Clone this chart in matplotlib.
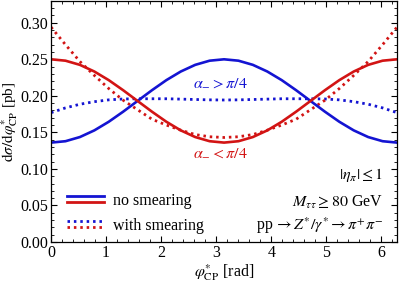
import numpy as np
import matplotlib
matplotlib.use("Agg")
import matplotlib.pyplot as plt
from matplotlib.lines import Line2D
from matplotlib.legend_handler import HandlerBase
from matplotlib.ticker import MultipleLocator, FormatStrFormatter

plt.rcParams['font.family'] = ['Liberation Serif', 'DejaVu Serif']
plt.rcParams['mathtext.fontset'] = 'stix'

BLUE = '#1414d2'
RED = '#d21414'

# phi*_CP sample points in units of pi/12 (0 .. 2 pi)
phi_steps = [0, 1, 2, 3, 4, 5, 6, 7, 8, 9, 10, 11, 12,
             13, 14, 15, 16, 17, 18, 19, 20, 21, 22, 23, 24]

# alpha_- > pi/4, no smearing
blue_solid = [0.136, 0.1379, 0.1436, 0.1527, 0.1645, 0.1783, 0.193, 0.2077,
              0.2215, 0.2333, 0.2424, 0.2481, 0.250, 0.2481, 0.2424, 0.2333,
              0.2215, 0.2077, 0.193, 0.1783, 0.1645, 0.1527, 0.1436, 0.1379, 0.136]
# alpha_- < pi/4, no smearing
red_solid = [0.250, 0.2481, 0.2424, 0.2333, 0.2215, 0.2077, 0.193, 0.1783,
             0.1645, 0.1527, 0.1436, 0.1379, 0.136, 0.1379, 0.1436, 0.1527,
             0.1645, 0.1783, 0.193, 0.2077, 0.2215, 0.2333, 0.2424, 0.2481, 0.250]
# alpha_- > pi/4, with smearing
blue_dotted = [0.177, 0.1835, 0.1885, 0.192, 0.1945, 0.1957, 0.196, 0.196,
               0.196, 0.1955, 0.195, 0.1945, 0.1943, 0.1945, 0.195, 0.1955,
               0.196, 0.196, 0.196, 0.1957, 0.1945, 0.192, 0.1885, 0.1835, 0.177]
# alpha_- < pi/4, with smearing
red_dotted = [0.294, 0.270, 0.247, 0.228, 0.210, 0.194, 0.181, 0.168,
              0.160, 0.153, 0.147, 0.144, 0.143, 0.144, 0.147, 0.153,
              0.160, 0.168, 0.181, 0.194, 0.210, 0.228, 0.247, 0.270, 0.294]

phi = np.array(phi_steps) * np.pi / 12

DOT = (0, (0.9, 1.4))
FS = 11.5


class StackedPair(HandlerBase):
    def __init__(self, style):
        super().__init__()
        self.style = style

    def create_artists(self, legend, orig_handle, xdescent, ydescent,
                       width, height, fontsize, trans):
        x0, x1 = -xdescent, width - xdescent
        arts = []
        for color, frac in ((BLUE, 0.75), (RED, 0.25)):
            ln = Line2D([x0, x1], [frac * height - ydescent] * 2,
                        color=color, lw=2.0, linestyle=self.style,
                        transform=trans)
            arts.append(ln)
        return arts


fig = plt.figure(figsize=(3.99, 2.84), dpi=100)
ax = fig.add_axes([0.128, 0.148, 0.867, 0.849])

ax.plot(phi, blue_dotted, color=BLUE, lw=2.0, linestyle=DOT)
ax.plot(phi, red_dotted, color=RED, lw=2.0, linestyle=DOT)
ax.plot(phi, blue_solid, color=BLUE, lw=1.9)
ax.plot(phi, red_solid, color=RED, lw=1.9)

ax.set_xlim(0, 2 * np.pi)
ax.set_ylim(0, 0.33)
ax.xaxis.set_major_locator(MultipleLocator(1))
ax.xaxis.set_minor_locator(MultipleLocator(0.2))
ax.yaxis.set_major_locator(MultipleLocator(0.05))
ax.yaxis.set_minor_locator(MultipleLocator(0.01))
ax.yaxis.set_major_formatter(FormatStrFormatter('%.2f'))
ax.tick_params(which='both', direction='in', top=True, right=True,
               labelsize=FS, pad=2)
ax.tick_params(which='major', length=4)
ax.tick_params(which='minor', length=2)
for s in ax.spines.values():
    s.set_linewidth(0.9)

ax.set_xlabel(r'$\varphi^{*}_{\mathrm{CP}}$ [rad]', fontsize=FS, labelpad=1)
ax.set_ylabel(r'$\mathrm{d}\sigma/\mathrm{d}\varphi^{*}_{\mathrm{CP}}$ [pb]',
              fontsize=11)
ax.yaxis.set_label_coords(-0.09, 0.5)

ax.text(3.07, 0.218, r'$\alpha_{-} > \pi/4$', color=BLUE, fontsize=FS,
        ha='center', va='center')
ax.text(3.07, 0.122, r'$\alpha_{-} < \pi/4$', color=RED, fontsize=FS,
        ha='center', va='center')

ax.text(0.96, 0.278, r'$|\eta_{\pi}| \leq 1$', transform=ax.transAxes,
        ha='right', va='center', fontsize=FS)
ax.text(0.96, 0.162, r'$M_{\tau\tau} \geq 80$ GeV', transform=ax.transAxes,
        ha='right', va='center', fontsize=FS)
ax.text(0.96, 0.068, r'pp$\,\rightarrow Z^{*}/\gamma^{*} \rightarrow \pi^{+}\pi^{-}$',
        transform=ax.transAxes, ha='right', va='center', fontsize=FS)

h_solid = Line2D([], [])
h_dot = Line2D([], [])
ax.legend([h_solid, h_dot], ['no smearing', 'with smearing'],
          handler_map={h_solid: StackedPair('-'), h_dot: StackedPair(DOT)},
          loc='lower left', bbox_to_anchor=(0.005, -0.025), frameon=False,
          fontsize=FS, handlelength=2.3, handletextpad=0.55, labelspacing=0.55)

fig.savefig('out.png', dpi=100)
